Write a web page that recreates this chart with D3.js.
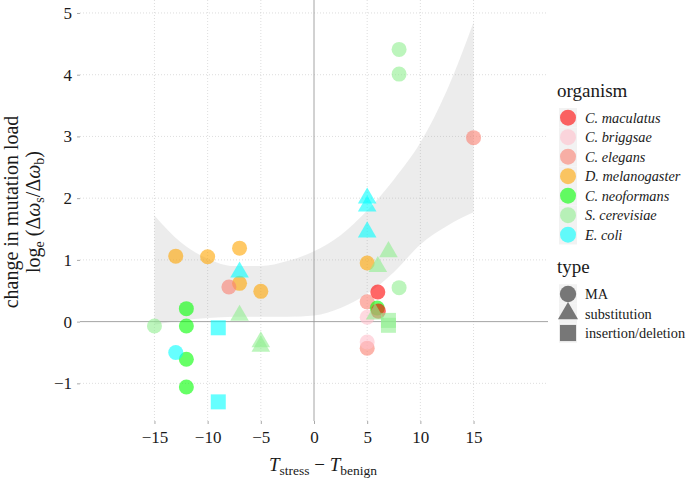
<!DOCTYPE html>
<html>
<head>
<meta charset="utf-8">
<script src="https://cdn.jsdelivr.net/npm/d3@7"></script>
<style>
  html, body { margin: 0; padding: 0; background: #fff; }
  svg { display: block; }
  text { font-family: "Liberation Serif", "Times New Roman", serif; fill: #1a1a1a; }
</style>
</head>
<body>
<svg id="chart" width="689" height="482"></svg>
<script>
// ---------- data ----------
const organisms = ["C. maculatus", "C. briggsae", "C. elegans", "D. melanogaster", "C. neoformans", "S. cerevisiae", "E. coli"];
const organismColors = ["#ff0000", "#ffc0cb", "#fa8072", "#ffa500", "#00ff00", "#90ee90", "#00ffff"];
const types = ["MA", "substitution", "insertion/deletion"];
const xTicks = [-15, -10, -5, 0, 5, 10, 15];
const yTicks = [-1, 0, 1, 2, 3, 4, 5];

// each point: [deltaT, logRatio, organism index, type index]
const pointsX    = [-13, -10, -7, -7, -5, 5, -8, 5, 5, 15, 5, 5, 5.95, 6.05, 6, -12, -12, -12, -12, -15, 8, 8, 8, -13, -7, 5, 5, 5, -7, -5, -5, 7, 6, 5.75, -9, -9, 7, 7];
const pointsY    = [1.06, 1.05, 1.19, 0.62, 0.49, 0.95, 0.56, 0.32, -0.43, 2.98, 0.07, -0.33, 0.22, 0.17, 0.48, 0.21, -0.07, -0.61, -1.06, -0.07, 4.41, 4.01, 0.55, -0.5, 0.8, 2.0, 1.87, 1.45, 0.1, -0.33, -0.4, 1.13, 0.89, 0.12, -0.1, -1.3, 0.02, -0.06];
const pointsOrg  = [3, 3, 3, 3, 3, 3, 2, 2, 2, 2, 1, 1, 4, 0, 0, 4, 4, 4, 4, 5, 5, 5, 5, 6, 6, 6, 6, 6, 5, 5, 5, 5, 5, 5, 6, 6, 5, 5];
const pointsType = [0, 0, 0, 0, 0, 0, 0, 0, 0, 0, 0, 0, 0, 0, 0, 0, 0, 0, 0, 0, 0, 0, 0, 0, 1, 1, 1, 1, 1, 1, 1, 1, 1, 1, 2, 2, 2, 2];

// smoother confidence band
const bandX     = [-15, -12.5, -10, -7.5, -5, -2.5, 0, 2.5, 5, 7.5, 10, 12.5, 15];
const bandUpper = [1.72, 1.28, 1.02, 0.9, 0.9, 0.98, 1.14, 1.4, 1.8, 2.3, 2.9, 3.75, 4.85];
const bandLower = [-0.05, 0.02, 0.06, 0.08, 0.08, 0.08, 0.1, 0.22, 0.45, 0.8, 1.25, 1.55, 1.77];

// ---------- layout ----------
const svg = d3.select("#chart");
const P = { left: 80, right: 548, top: 0, bottom: 421 };
const x = d3.scaleLinear().domain([-22, 22]).range([P.left, P.right]);
const y = d3.scaleLinear().domain([-1.61, 5.21]).range([P.bottom, P.top]);

const color = d3.scaleOrdinal().domain(organisms).range(organismColors);
const shapeOf = [d3.symbolCircle, d3.symbolTriangle, d3.symbolSquare];
const sizeOf = [177, 150, 225];

// gridlines
const grid = svg.append("g");
grid.selectAll("line.gx").data(xTicks.filter(d => d !== 0)).join("line")
  .attr("x1", d => x(d)).attr("x2", d => x(d))
  .attr("y1", P.top).attr("y2", P.bottom)
  .attr("stroke", "#cfcfcf").attr("stroke-width", 0.7).attr("stroke-dasharray", "1,2");
grid.selectAll("line.gy").data(yTicks.filter(d => d !== 0)).join("line")
  .attr("x1", P.left).attr("x2", P.right)
  .attr("y1", d => y(d)).attr("y2", d => y(d))
  .attr("stroke", "#cfcfcf").attr("stroke-width", 0.7).attr("stroke-dasharray", "1,2");

// zero lines
svg.append("line").attr("x1", x(0)).attr("x2", x(0)).attr("y1", P.top).attr("y2", P.bottom)
  .attr("stroke", "#9a9a9a").attr("stroke-width", 0.9);
svg.append("line").attr("x1", P.left).attr("x2", P.right).attr("y1", y(0)).attr("y2", y(0))
  .attr("stroke", "#9a9a9a").attr("stroke-width", 0.9);

// band
const area = d3.area()
  .x((d, i) => x(bandX[i]))
  .y0((d, i) => y(bandLower[i]))
  .y1((d, i) => y(bandUpper[i]))
  .curve(d3.curveMonotoneX);
svg.append("path").datum(bandX).attr("d", area)
  .attr("fill", "#999").attr("fill-opacity", 0.19);

// axes (ticks)
const xAxis = d3.axisBottom(x).tickValues(xTicks).tickSize(3).tickPadding(6)
  .tickFormat(d => d < 0 ? "\u2212" + Math.abs(d) : String(d));
const gx = svg.append("g").attr("transform", `translate(0,${P.bottom})`).call(xAxis);
gx.select(".domain").remove();
gx.selectAll(".tick line").attr("stroke", "#aaa");
gx.selectAll(".tick text").attr("font-size", 17).attr("fill", "#1a1a1a")
  .attr("font-family", "Liberation Serif, serif").attr("y", 10).attr("dy", "0.71em");

const yAxis = d3.axisLeft(y).tickValues(yTicks).tickSize(3).tickPadding(5)
  .tickFormat(d => d < 0 ? "\u2212" + Math.abs(d) : String(d));
const gy = svg.append("g").attr("transform", `translate(${P.left},0)`).call(yAxis);
gy.select(".domain").remove();
gy.selectAll(".tick line").attr("stroke", "#aaa");
gy.selectAll(".tick text").attr("font-size", 17).attr("fill", "#1a1a1a")
  .attr("font-family", "Liberation Serif, serif");

// points
const idx = d3.range(pointsX.length);
svg.append("g").selectAll("path").data(idx).join("path")
  .attr("transform", i => `translate(${x(pointsX[i])},${y(pointsY[i])})`)
  .attr("d", i => d3.symbol().type(shapeOf[pointsType[i]]).size(sizeOf[pointsType[i]])())
  .attr("fill", i => color(organisms[pointsOrg[i]]))
  .attr("fill-opacity", 0.6);

// x title
const xt = svg.append("text").attr("x", 323).attr("y", 471).attr("text-anchor", "middle").attr("font-size", 19);
xt.append("tspan").attr("font-style", "italic").text("T");
xt.append("tspan").attr("font-size", 13.5).attr("dy", 4).text("stress");
xt.append("tspan").attr("dy", -4).text(" \u2212 ");
xt.append("tspan").attr("font-style", "italic").text("T");
xt.append("tspan").attr("font-size", 13.5).attr("dy", 4).text("benign");

// y title
const yt = svg.append("g").attr("transform", "translate(0,212) rotate(-90)");
yt.append("text").attr("x", 0).attr("y", 18).attr("text-anchor", "middle").attr("font-size", 20)
  .text("change in mutation load");
const l2 = yt.append("text").attr("x", 0).attr("y", 40).attr("text-anchor", "middle").attr("font-size", 20);
l2.append("tspan").text("log");
l2.append("tspan").attr("font-size", 14).attr("dy", 4).text("e");
l2.append("tspan").attr("dy", -4).text(" (\u0394");
l2.append("tspan").attr("font-style", "italic").text("\u03c9");
l2.append("tspan").attr("font-size", 14).attr("dy", 4).text("s");
l2.append("tspan").attr("dy", -4).text("/\u0394");
l2.append("tspan").attr("font-style", "italic").text("\u03c9");
l2.append("tspan").attr("font-size", 14).attr("dy", 4).text("b");
l2.append("tspan").attr("dy", -4).text(")");

// legend: organism
const L = { keyX: 568, textX: 585, orgTitleY: 97, orgY0: 117.7, step: 19.5, typeTitleY: 273, typeY0: 294 };
svg.append("text").attr("x", 557).attr("y", L.orgTitleY).attr("font-size", 19).text("organism");
const lo = svg.append("g");
organisms.forEach((o, i) => {
  const cy = L.orgY0 + i * L.step;
  lo.append("rect").attr("x", L.keyX - 9).attr("y", cy - L.step / 2).attr("width", 18).attr("height", L.step).attr("fill", "#f2f2f2");
  lo.append("circle").attr("cx", L.keyX).attr("cy", cy).attr("r", 8).attr("fill", color(o)).attr("fill-opacity", 0.6);
  lo.append("text").attr("x", L.textX).attr("y", cy).attr("dy", "0.35em").attr("font-size", 14.3)
    .attr("font-style", "italic").text(o);
});

// legend: type
svg.append("text").attr("x", 557).attr("y", L.typeTitleY).attr("font-size", 19).text("type");
const lt = svg.append("g");
types.forEach((t, i) => {
  const cy = L.typeY0 + i * L.step;
  lt.append("rect").attr("x", L.keyX - 9).attr("y", cy - L.step / 2).attr("width", 18).attr("height", L.step).attr("fill", "#f2f2f2");
  lt.append("path").attr("transform", `translate(${L.keyX},${cy})`)
    .attr("d", d3.symbol().type(shapeOf[i]).size([210, 175, 260][i])())
    .attr("fill", "#777");
  lt.append("text").attr("x", L.textX).attr("y", cy).attr("dy", "0.35em").attr("font-size", 14.3).text(t);
});
</script>
</body>
</html>
